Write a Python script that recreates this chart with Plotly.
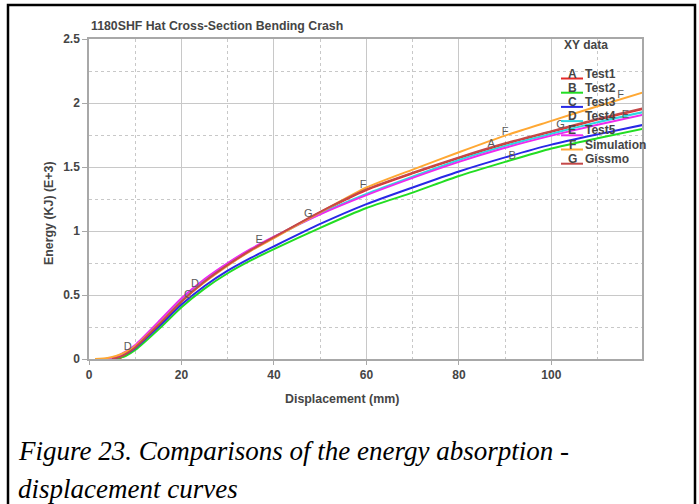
import numpy as np
import plotly.graph_objects as go

# ---------------- data ----------------
series_names = ["Test1", "Test2", "Test3", "Test4", "Test5", "Simulation", "Gissmo"]
series_letters = ["A", "B", "C", "D", "E", "F", "G"]
series_colors = ["#e42a2a", "#22dd22", "#2828e6", "#2ed8e0", "#ee2aee", "#ffa833", "#c44848"]

test1_x = [6.3, 8, 10, 15, 20, 25, 30, 35, 40, 50, 60, 70, 80, 90, 100, 110, 120]
test1_y = [0, 0.03, 0.09, 0.265, 0.45, 0.605, 0.735, 0.85, 0.95, 1.145, 1.32, 1.45, 1.57, 1.68, 1.775, 1.87, 1.955]

test2_x = [5.5, 8, 10, 15, 20, 25, 30, 35, 40, 50, 60, 70, 80, 90, 100, 110, 120]
test2_y = [0, 0.025, 0.07, 0.23, 0.405, 0.55, 0.67, 0.77, 0.858, 1.025, 1.18, 1.30, 1.43, 1.54, 1.645, 1.725, 1.80]

test3_x = [4, 6, 8, 10, 15, 20, 25, 30, 35, 40, 50, 60, 70, 80, 90, 100, 110, 120]
test3_y = [0, 0.012, 0.04, 0.085, 0.25, 0.425, 0.57, 0.69, 0.79, 0.88, 1.055, 1.21, 1.34, 1.465, 1.575, 1.675, 1.755, 1.83]

test4_x = [3.5, 6, 8, 10, 15, 20, 25, 30, 35, 40, 50, 60, 70, 80, 90, 100, 110, 120]
test4_y = [0, 0.018, 0.055, 0.10, 0.28, 0.465, 0.615, 0.745, 0.855, 0.952, 1.135, 1.29, 1.425, 1.555, 1.665, 1.76, 1.85, 1.93]

test5_x = [3.5, 6, 8, 10, 15, 20, 25, 30, 35, 40, 50, 60, 70, 80, 90, 100, 110, 120]
test5_y = [0, 0.02, 0.06, 0.11, 0.29, 0.475, 0.625, 0.75, 0.86, 0.955, 1.13, 1.28, 1.415, 1.54, 1.65, 1.745, 1.83, 1.91]

sim_x = [1.3, 4, 6, 8, 10, 15, 20, 25, 30, 35, 40, 50, 60, 70, 80, 90, 100, 110, 120]
sim_y = [0, 0.008, 0.025, 0.055, 0.10, 0.27, 0.45, 0.60, 0.73, 0.845, 0.945, 1.145, 1.34, 1.48, 1.615, 1.745, 1.86, 1.975, 2.085]

gissmo_x = [5, 7, 8, 10, 15, 20, 25, 30, 35, 40, 50, 60, 70, 80, 90, 100, 110, 120]
gissmo_y = [0, 0.02, 0.04, 0.09, 0.265, 0.45, 0.605, 0.735, 0.85, 0.952, 1.15, 1.325, 1.455, 1.575, 1.685, 1.78, 1.875, 1.96]

series_x = [test1_x, test2_x, test3_x, test4_x, test5_x, sim_x, gissmo_x]
series_y = [test1_y, test2_y, test3_y, test4_y, test5_y, sim_y, gissmo_y]

# positions (displacement) where the curve letter labels sit
label_x = [[87], [91.5], [21.4], [8.4, 22.9], [36.8, 116], [59.3, 90, 115], [47.4, 102]]

x_ticks = [0, 20, 40, 60, 80, 100]
y_ticks = [0, 0.5, 1, 1.5, 2, 2.5]
y_tick_text = ["0", "0.5", "1", "1.5", "2", "2.5"]

title_text = "1180SHF Hat Cross-Section Bending Crash"
x_title = "Displacement (mm)"
y_title = "Energy (KJ) (E+3)"
legend_title = "XY data"
caption_1 = "Figure 23. Comparisons of the energy absorption -"
caption_2 = "displacement curves"

# ---------------- layout geometry ----------------
W, H = 699, 504
PL, PR, PT, PB = 89, 642, 39, 359  # plot area in pixels


def xp(px):
    return (px - PL) / (PR - PL)


def yp(py):
    return (PB - py) / (PB - PT)


GRAY = "#454545"
SANS = "Liberation Sans, Arial"
fig = go.Figure()

for name, xs, ys, col in zip(series_names, series_x, series_y, series_colors):
    fig.add_trace(go.Scatter(x=xs, y=ys, mode="lines", name=name,
                             line=dict(color=col, width=2, shape="spline", smoothing=0.6),
                             showlegend=False, hoverinfo="skip"))

# curve letter labels
for letter, xs, ys, lx in zip(series_letters, series_x, series_y, label_x):
    ly = [float(np.interp(v, xs, ys)) + 0.03 for v in lx]
    fig.add_trace(go.Scatter(x=lx, y=ly, mode="text", text=[letter] * len(lx),
                             textfont=dict(family=SANS, size=11, color="#5a5a5a"),
                             showlegend=False, hoverinfo="skip"))

annotations = []
shapes = []

# title
annotations.append(dict(text="<b>" + title_text + "</b>", xref="paper", yref="paper",
                        x=xp(89), y=yp(26), xanchor="left", yanchor="middle", showarrow=False,
                        font=dict(family=SANS, size=12.3, color=GRAY)))
# axis titles
annotations.append(dict(text="<b>" + x_title + "</b>", xref="paper", yref="paper",
                        x=xp(342), y=yp(399), xanchor="center", yanchor="middle", showarrow=False,
                        font=dict(family=SANS, size=12.4, color=GRAY)))
annotations.append(dict(text="<b>" + y_title + "</b>", xref="paper", yref="paper",
                        x=xp(49), y=yp(213), xanchor="center", yanchor="middle", showarrow=False,
                        textangle=-90,
                        font=dict(family=SANS, size=12.4, color=GRAY)))
# legend
annotations.append(dict(text="<b>" + legend_title + "</b>", xref="paper", yref="paper",
                        x=xp(562), y=yp(45), xanchor="left", yanchor="middle", showarrow=False,
                        font=dict(family=SANS, size=12, color=GRAY)))
for i, (letter, name, col) in enumerate(zip(series_letters, series_names, series_colors)):
    row_y = 78.5 + i * 14.2
    shapes.append(dict(type="line", xref="paper", yref="paper",
                       x0=xp(561), x1=xp(583), y0=yp(row_y), y1=yp(row_y),
                       line=dict(color=col, width=2)))
    annotations.append(dict(text="<b>" + letter + "</b>", xref="paper", yref="paper",
                            x=xp(572), y=yp(row_y - 5), xanchor="center", yanchor="middle",
                            showarrow=False,
                            font=dict(family=SANS, size=12, color=GRAY)))
    annotations.append(dict(text="<b>" + name + "</b>", xref="paper", yref="paper",
                            x=xp(583), y=yp(row_y - 5), xanchor="left", yanchor="middle",
                            showarrow=False,
                            font=dict(family=SANS, size=12, color=GRAY)))

# caption
annotations.append(dict(text="<i>" + caption_1 + "</i>", xref="paper", yref="paper",
                        x=xp(16), y=yp(451), xanchor="left", yanchor="middle", showarrow=False,
                        font=dict(family="Liberation Serif, Times New Roman", size=27, color="#000")))
annotations.append(dict(text="<i>" + caption_2 + "</i>", xref="paper", yref="paper",
                        x=xp(16), y=yp(489), xanchor="left", yanchor="middle", showarrow=False,
                        font=dict(family="Liberation Serif, Times New Roman", size=27, color="#000")))

# outer black frame
shapes.append(dict(type="rect", xref="paper", yref="paper",
                   x0=xp(8), x1=xp(695), y0=yp(515), y1=yp(5),
                   line=dict(color="#000", width=2.5), layer="below"))

fig.update_layout(
    width=W, height=H,
    margin=dict(l=PL, r=W - PR, t=PT, b=H - PB, pad=0),
    paper_bgcolor="white", plot_bgcolor="white",
    annotations=annotations, shapes=shapes,
    showlegend=False,
)

fig.update_xaxes(range=[0, 119.6], tickmode="array", tickvals=x_ticks,
                 ticktext=["<b>%d</b>" % v for v in x_ticks],
                 showgrid=True, gridcolor="#c8c8c8", gridwidth=1,
                 minor=dict(dtick=10, showgrid=True, gridcolor="#c8c8c8", griddash="dot", gridwidth=1),
                 showline=True, linecolor="#a8a8a8", linewidth=1.5, mirror=True,
                 ticks="outside", ticklen=4, tickcolor="#a8a8a8",
                 tickfont=dict(family=SANS, size=12, color=GRAY),
                 zeroline=False, fixedrange=True)
fig.update_yaxes(range=[0, 2.5], tickmode="array", tickvals=y_ticks,
                 ticktext=["<b>%s</b>" % t for t in y_tick_text],
                 showgrid=True, gridcolor="#c8c8c8", gridwidth=1,
                 minor=dict(dtick=0.25, showgrid=True, gridcolor="#c8c8c8", griddash="dot", gridwidth=1),
                 showline=True, linecolor="#a8a8a8", linewidth=1.5, mirror=True,
                 ticks="outside", ticklen=5, tickcolor="#a8a8a8",
                 tickfont=dict(family=SANS, size=12, color=GRAY),
                 zeroline=False, fixedrange=True)

fig.write_html("out.html", config={"displayModeBar": False})
